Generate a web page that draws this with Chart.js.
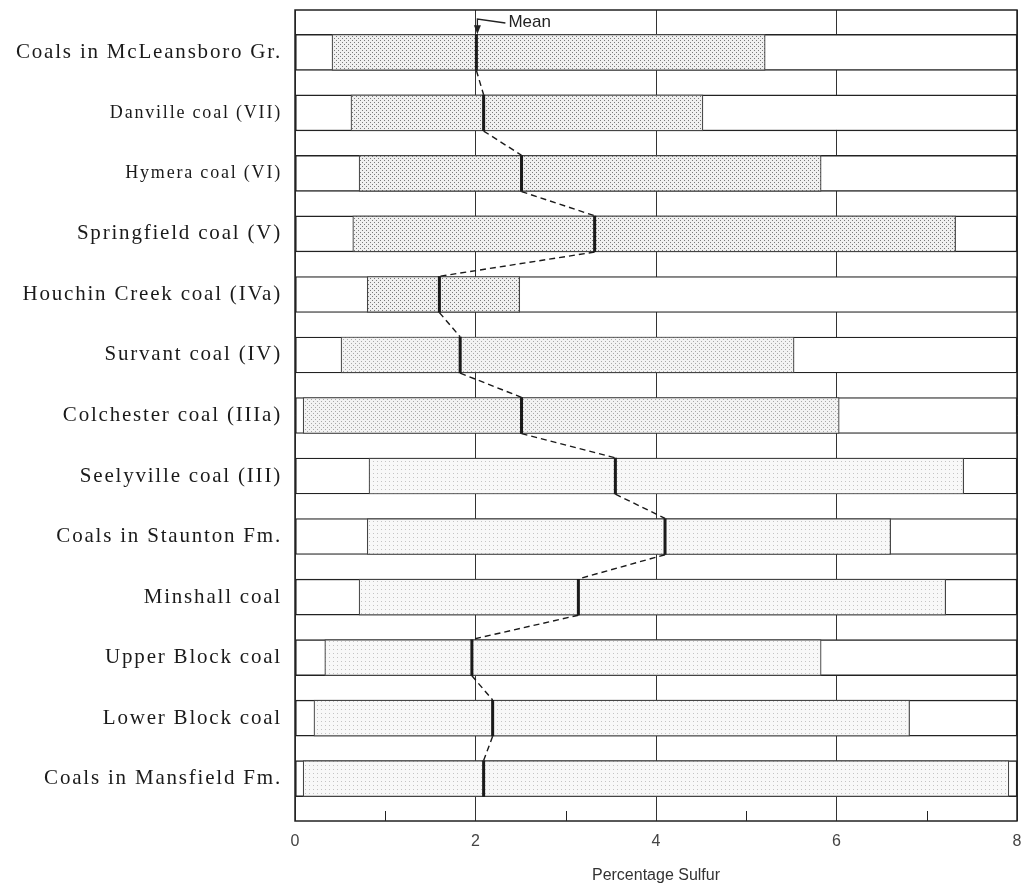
<!DOCTYPE html>
<html>
<head>
<meta charset="utf-8">
<script src="https://cdn.jsdelivr.net/npm/chart.js@4.4.1/dist/chart.umd.min.js"></script>
<style>
  html, body { margin: 0; padding: 0; background: #fff; }
  #wrap { width: 1024px; height: 885px; }
</style>
</head>
<body>
<div id="wrap"><canvas id="chart" width="1024" height="885"></canvas></div>
<script>
const coals = [
  'Coals in McLeansboro Gr.',
  'Danville coal (VII)',
  'Hymera coal (VI)',
  'Springfield coal (V)',
  'Houchin Creek coal (IVa)',
  'Survant coal (IV)',
  'Colchester coal (IIIa)',
  'Seelyville coal (III)',
  'Coals in Staunton Fm.',
  'Minshall coal',
  'Upper Block coal',
  'Lower Block coal',
  'Coals in Mansfield Fm.'
];
const minSulfur  = [0.41, 0.62, 0.71, 0.64, 0.80, 0.51, 0.09, 0.82, 0.80, 0.71, 0.33, 0.21, 0.09];
const maxSulfur  = [5.21, 4.52, 5.83, 7.32, 2.49, 5.53, 6.03, 7.41, 6.60, 7.21, 5.83, 6.81, 7.91];
const meanSulfur = [2.01, 2.09, 2.51, 3.32, 1.60, 1.83, 2.51, 3.55, 4.10, 3.14, 1.96, 2.19, 2.09];
const xTicks = [0, 2, 4, 6, 8];

const boxHalf = 0.3;   // half the box height, in row units
const smallLabels = [1, 2];

// stipple fills
function stipple(bg, dot, step, dots) {
  const c = document.createElement('canvas');
  c.width = step; c.height = step;
  const g = c.getContext('2d');
  g.fillStyle = bg; g.fillRect(0, 0, step, step);
  g.fillStyle = dot;
  dots.forEach(d => g.fillRect(d[0], d[1], 1, 1));
  return g.createPattern(c, 'repeat');
}
const ctx = document.getElementById('chart').getContext('2d');
const denseFill = stipple('#f0f0f0', '#7a7a7a', 4, [[0, 0], [2, 2]]);
const midFill = stipple('#f3f3f3', '#a8a8a8', 4, [[1, 1], [3, 3]]);
const lightFill = stipple('#f8f8f8', '#c4c4c4', 4, [[1, 1]]);

const rowFrames = coals.map((c, i) => ({ x: [0, 8], y: i }));
const ranges = coals.map((c, i) => ({ x: [minSulfur[i], maxSulfur[i]], y: i }));
const meanPts = [];
meanSulfur.forEach((m, i) => {
  meanPts.push({ x: m, y: i - boxHalf });
  meanPts.push({ x: m, y: i + boxHalf });
});

const decorations = {
  id: 'decorations',
  afterDatasetsDraw(chart) {
    const c = chart.ctx, a = chart.chartArea;
    const xs = chart.scales.x, ys = chart.scales.y;
    c.save();
    // frame
    c.strokeStyle = '#222';
    c.lineWidth = 1.5;
    c.strokeRect(a.left, a.top, a.right - a.left, a.bottom - a.top);
    // minor ticks
    c.lineWidth = 1;
    [1, 3, 5, 7].forEach(v => {
      const px = Math.round(xs.getPixelForValue(v)) + 0.5;
      c.beginPath();
      c.moveTo(px, a.bottom);
      c.lineTo(px, a.bottom - 10);
      c.stroke();
    });
    // "Mean" pointer
    const mx = xs.getPixelForValue(meanSulfur[0]);
    const topBox = ys.getPixelForValue(-boxHalf);
    c.strokeStyle = '#222';
    c.lineWidth = 1.3;
    c.beginPath();
    c.moveTo(mx + 29, 23);
    c.lineTo(mx + 1, 19);
    c.lineTo(mx + 1, topBox - 4);
    c.stroke();
    c.fillStyle = '#222';
    c.beginPath();
    c.moveTo(mx - 2.5, topBox - 9);
    c.lineTo(mx + 4.5, topBox - 9);
    c.lineTo(mx + 1, topBox);
    c.closePath();
    c.fill();
    c.font = '17px "Liberation Sans"';
    c.textBaseline = 'middle';
    c.textAlign = 'left';
    c.fillText('Mean', mx + 32, 22);
    c.restore();
    // wide spaced labels for the category axis drawn next
    c.letterSpacing = '1.8px';
  },
  afterDraw(chart) {
    chart.ctx.letterSpacing = '0px';
  }
};

new Chart(ctx, {
  type: 'bar',
  data: {
    datasets: [
      {
        type: 'line',
        data: meanPts,
        borderColor: '#1a1a1a',
        borderWidth: 3,
        pointRadius: 0,
        tension: 0,
        order: 1,
        segment: {
          borderDash: s => (s.p0DataIndex % 2 === 1 ? [6, 4] : []),
          borderWidth: s => (s.p0DataIndex % 2 === 1 ? 1.4 : 3)
        }
      },
      {
        data: ranges,
        backgroundColor: s => (s.dataIndex < 5 ? denseFill : s.dataIndex < 7 ? midFill : lightFill),
        borderColor: '#444',
        borderWidth: 1.2,
        borderSkipped: false,
        barThickness: 36,
        grouped: false,
        order: 2
      },
      {
        data: rowFrames,
        backgroundColor: '#ffffff',
        borderColor: '#222',
        borderWidth: 1.4,
        borderSkipped: false,
        barThickness: 36,
        grouped: false,
        order: 3
      }
    ]
  },
  options: {
    indexAxis: 'y',
    responsive: false,
    animation: false,
    layout: { padding: { top: 10, right: 7, left: 0, bottom: 0 } },
    plugins: { legend: { display: false }, tooltip: { enabled: false } },
    scales: {
      x: {
        type: 'linear',
        min: 0,
        max: 8,
        grid: {
          color: s => (s.tick && s.tick.value % 2 === 0 ? '#333' : 'rgba(0,0,0,0)'),
          lineWidth: 1,
          drawTicks: false
        },
        border: { display: false },
        ticks: {
          stepSize: 1,
          autoSkip: false,
          maxRotation: 0,
          padding: 11,
          color: '#444',
          font: { family: 'Liberation Sans', size: 16 },
          callback: v => (xTicks.includes(v) ? String(v) : '')
        },
        title: {
          display: true,
          text: 'Percentage Sulfur',
          color: '#333',
          font: { family: 'Liberation Sans', size: 16 },
          padding: { top: 16, bottom: 0 }
        },
        afterFit: s => {
          s.height = 64;
          s.paddingLeft = 0;
          s.paddingRight = 0;
        }
      },
      y: {
        type: 'linear',
        reverse: true,
        offset: false,
        min: -0.7,
        max: 12.7,
        grid: { display: false, drawTicks: false },
        border: { display: false },
        afterBuildTicks: s => { s.ticks = coals.map((c, i) => ({ value: i })); },
        ticks: {
          z: 1,
          autoSkip: false,
          padding: 13,
          color: '#1a1a1a',
          font: s => ({ family: 'Liberation Serif', size: smallLabels.includes(s.index) ? 18 : 21 }),
          callback: v => coals[v]
        },
        afterFit: s => {
          s.width = 295;
          s.paddingTop = 0;
          s.paddingBottom = 0;
        }
      }
    }
  },
  plugins: [decorations]
});
</script>
</body>
</html>
